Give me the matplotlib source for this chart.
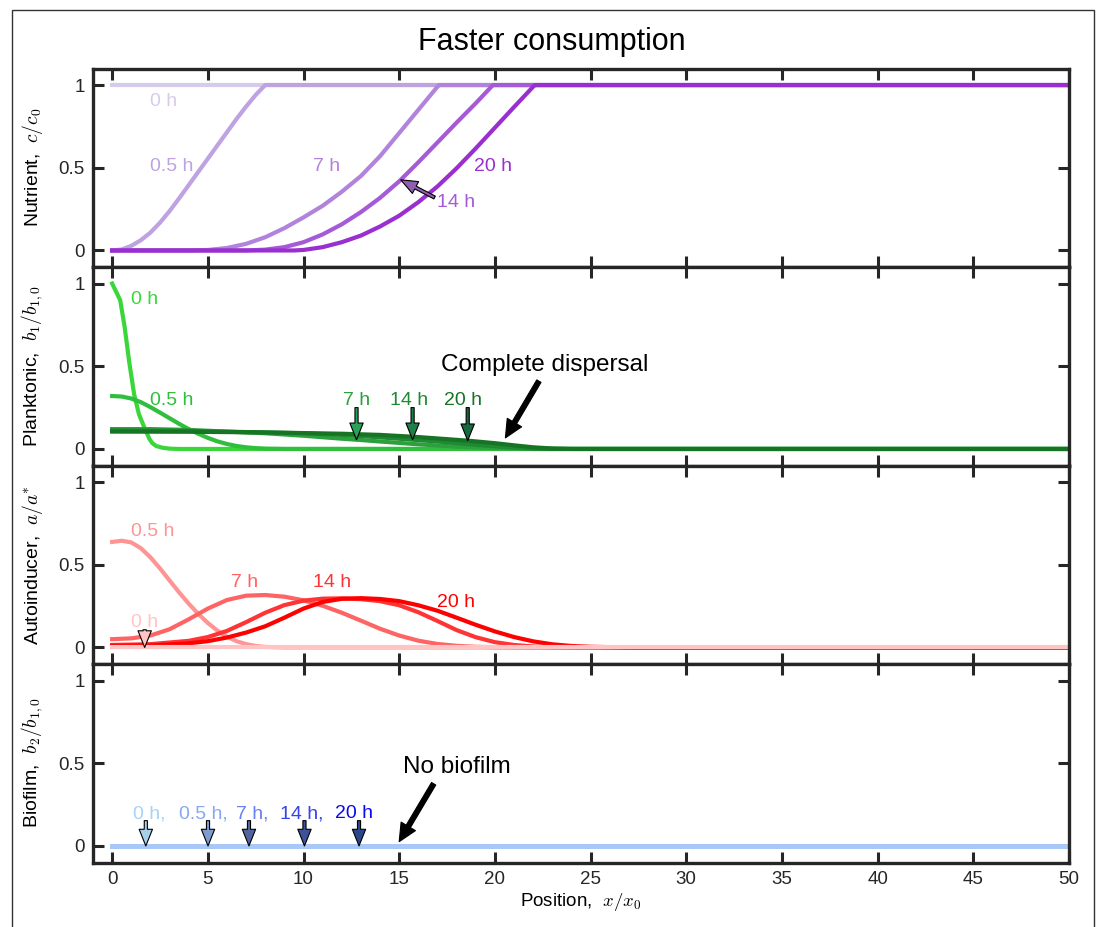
import matplotlib.pyplot as plt
import numpy as np
from matplotlib.patches import Rectangle

plt.rcParams['font.family'] = ['Liberation Sans', 'DejaVu Sans']
plt.rcParams['mathtext.fontset'] = 'cm'
plt.rcParams['lines.solid_joinstyle'] = 'round'

times = ['0 h', '0.5 h', '7 h', '14 h', '20 h']

# Nutrient, c/c0
nut_x = [
    [0, 50],
    [0, 0.5, 1, 1.5, 2, 2.5, 3, 3.5, 4, 4.5, 5, 5.5, 6, 6.5, 7, 7.5, 8, 50],
    [0, 4, 5, 6, 7, 8, 9, 10, 11, 12, 13, 14, 15, 16, 17, 17.1, 50],
    [0, 7, 8, 9, 10, 11, 12, 13, 14, 15, 16, 17, 18, 19, 19.9, 50],
    [0, 9.5, 10, 11, 12, 13, 14, 15, 16, 17, 18, 19, 20, 21, 22, 22.1, 50],
]
nut_y = [
    [1, 1],
    [0, 0.006, 0.028, 0.062, 0.108, 0.168, 0.238, 0.315, 0.395, 0.475, 0.555, 0.635, 0.715, 0.795, 0.87, 0.94, 1.0, 1.0],
    [0, 0, 0.003, 0.015, 0.04, 0.08, 0.135, 0.2, 0.27, 0.355, 0.45, 0.57, 0.71, 0.85, 0.99, 1, 1],
    [0, 0, 0.005, 0.02, 0.05, 0.097, 0.158, 0.232, 0.318, 0.418, 0.533, 0.653, 0.773, 0.89, 1, 1],
    [0, 0, 0.003, 0.02, 0.05, 0.09, 0.145, 0.21, 0.292, 0.387, 0.497, 0.617, 0.742, 0.867, 0.99, 1, 1],
]

# Planktonic, b1/b1,0
plank_x = [
    [0, 0.42, 0.65, 0.9, 1.15, 1.4, 1.7, 1.95, 2.1, 2.3, 2.6, 3, 3.5, 50],
    [0, 0.5, 1, 1.5, 2, 2.5, 3, 3.5, 4, 4.5, 5, 5.5, 6, 6.5, 7, 7.5, 8, 9, 50],
    [0, 2, 4, 6, 8, 10, 12, 13, 14, 16, 18, 20, 22, 50],
    [0, 4, 8, 10, 12, 14, 15.7, 17, 19, 21, 22.5, 50],
    [0, 4, 8, 12, 14, 16, 18.6, 20, 21, 22, 23, 24, 50],
]
plank_y = [
    [1, 0.9, 0.74, 0.52, 0.33, 0.21, 0.125, 0.06, 0.035, 0.018, 0.008, 0.002, 0, 0],
    [0.32, 0.317, 0.305, 0.283, 0.253, 0.22, 0.186, 0.152, 0.12, 0.092, 0.067, 0.046, 0.03, 0.018, 0.01, 0.005, 0.002, 0, 0],
    [0.12, 0.12, 0.115, 0.105, 0.095, 0.08, 0.062, 0.054, 0.045, 0.028, 0.014, 0.005, 0, 0],
    [0.112, 0.109, 0.1, 0.095, 0.085, 0.07, 0.056, 0.045, 0.025, 0.008, 0, 0],
    [0.105, 0.104, 0.1, 0.092, 0.085, 0.072, 0.05, 0.035, 0.022, 0.01, 0.003, 0, 0],
]

# Autoinducer, a/a*
auto_x = [
    [0, 50],
    [0, 0.5, 1, 1.5, 2, 2.5, 3, 3.5, 4, 4.5, 5, 5.5, 6, 6.5, 7, 7.5, 8, 9, 50],
    [0, 1, 2, 3, 4, 5, 6, 7, 8, 9, 10, 11, 12, 13, 14, 15, 16, 17, 18, 19, 20, 22, 50],
    [0, 2, 4, 5, 6, 7, 8, 9, 10, 11, 12, 13, 14, 15, 16, 17, 18, 19, 20, 21, 22, 23, 25, 50],
    [0, 2, 4, 5, 6, 7, 8, 9, 10, 11, 12, 13, 14, 15, 16, 17, 18, 19, 20, 21, 22, 23, 24, 25, 27, 50],
]
auto_y = [
    [0, 0],
    [0.638, 0.645, 0.635, 0.6, 0.545, 0.478, 0.405, 0.333, 0.265, 0.203, 0.148, 0.102, 0.065, 0.038, 0.02, 0.009, 0.003, 0, 0],
    [0.05, 0.055, 0.072, 0.11, 0.17, 0.235, 0.287, 0.313, 0.317, 0.307, 0.285, 0.252, 0.21, 0.162, 0.113, 0.072, 0.041,
     0.021, 0.01, 0.004, 0.0015, 0, 0],
    [0.015, 0.02, 0.04, 0.063, 0.1, 0.153, 0.21, 0.256, 0.283, 0.295, 0.297, 0.292, 0.28, 0.255, 0.213, 0.16, 0.105,
     0.062, 0.032, 0.015, 0.006, 0.002, 0, 0],
    [0.01, 0.012, 0.025, 0.038, 0.06, 0.09, 0.128, 0.18, 0.235, 0.275, 0.294, 0.298, 0.293, 0.28, 0.255, 0.222, 0.18,
     0.137, 0.097, 0.063, 0.037, 0.019, 0.009, 0.004, 0, 0],
]

# Biofilm, b2/b1,0 (stays at zero)
bio_x = [[0, 50]] * 5
bio_y = [[0, 0]] * 5

nut_colors = ['#d6cbec', '#bea2e2', '#b283dc', '#a55ad7', '#9a2fcf']
plank_colors = ['#3ad63a', '#2fbf3c', '#2ca03c', '#1f8a33', '#167424']
plank_arrow_colors = ['#2aa05a', '#1e8048', '#176a3e']
auto_colors = ['#ffc4c4', '#ff9494', '#ff6464', '#ff3434', '#ff0000']
bio_label_colors = ['#a8d2f8', '#88a8f0', '#6a80f0', '#3545e6', '#0a0af0']
bio_arrow_colors = ['#a6d0ea', '#7e9ccf', '#50659f', '#3e529a', '#2c468c']
bio_line_color = '#a8c8f8'

W, H = 1099, 927
fig = plt.figure(figsize=(W / 100, H / 100), dpi=100)
fig.add_artist(Rectangle((12 / W, -0.1), (1094 - 12) / W, 1.1 - 10 / H, transform=fig.transFigure,
                         fill=False, ec='#333333', lw=1))

left, right = 93 / W, 1069 / W
bottom, top = 1 - 862.5 / H, 1 - 68.5 / H
ph = (top - bottom) / 4
axes = []
for i in range(4):
    ax = fig.add_axes([left, top - (i + 1) * ph, right - left, ph])
    ax.set_xlim(-1, 50)
    ax.set_ylim(-0.1, 1.1)
    ax.set_xticks(np.arange(0, 51, 5))
    ax.set_yticks([0, 0.5, 1])
    ax.set_yticklabels(['0', '0.5', '1'])
    ax.tick_params(direction='in', length=8, width=2.2, top=True, right=True, labelsize=13.5,
                   color='#262626', labelcolor='#262626', pad=6)
    for s in ax.spines.values():
        s.set_linewidth(2.4)
        s.set_color('#262626')
    if i < 3:
        ax.tick_params(labelbottom=False)
    axes.append(ax)

lbl = dict(fontsize=14, ha='center', va='center')
arrow_small = 'simple,head_length=0.75,head_width=0.6,tail_width=0.14'
arrow_big = 'simple,head_length=0.8,head_width=0.75,tail_width=0.22'


def arrow(ax, tail, tip, fc, style=arrow_small, scale=16):
    ax.annotate('', xy=tip, xytext=tail,
                arrowprops=dict(arrowstyle=style, fc=fc, ec='black', lw=0.8,
                                shrinkA=0, shrinkB=0, mutation_scale=scale))


# Panel 1: nutrient
ax = axes[0]
for k in range(5):
    ax.plot(nut_x[k], nut_y[k], color=nut_colors[k], lw=3)
nut_lbl_pos = [(2.7, 0.9), (3.1, 0.51), (11.2, 0.51), (17.95, 0.29), (19.9, 0.51)]
for k in range(5):
    ax.text(*nut_lbl_pos[k], times[k], color=nut_colors[k], **lbl)
tip_x = 15.08
arrow(ax, (16.85, 0.32), (tip_x, np.interp(tip_x, nut_x[3], nut_y[3])), '#9060b0')
ax.set_ylabel(r'Nutrient,  $c/c_0$', fontsize=14, labelpad=10)

# Panel 2: planktonic
ax = axes[1]
for k in range(5):
    ax.plot(plank_x[k], plank_y[k], color=plank_colors[k], lw=3)
ax.text(1.7, 0.905, times[0], color=plank_colors[0], **lbl)
ax.text(3.1, 0.29, times[1], color=plank_colors[1], **lbl)
plank_arrow_x = [12.77, 15.7, 18.58]
plank_lbl_x = [12.77, 15.5, 18.35]
for j, k in enumerate([2, 3, 4]):
    ax.text(plank_lbl_x[j], 0.29, times[k], color=plank_colors[k], **lbl)
    xa = plank_arrow_x[j]
    arrow(ax, (xa, 0.25), (xa, np.interp(xa, plank_x[k], plank_y[k])), plank_arrow_colors[j])
ax.text(22.6, 0.51, 'Complete dispersal', fontsize=17.5, ha='center', va='center', color='black')
arrow(ax, (22.3, 0.41), (20.55, 0.067), 'black', arrow_big)
ax.set_ylabel(r'Planktonic,  $b_1/b_{1,0}$', fontsize=14, labelpad=10)

# Panel 3: autoinducer
ax = axes[2]
for k in [1, 2, 3, 4, 0]:
    ax.plot(auto_x[k], auto_y[k], color=auto_colors[k], lw=3)
auto_lbl_pos = [(1.7, 0.15), (2.12, 0.70), (6.9, 0.39), (11.5, 0.39), (17.95, 0.27)]
for k in range(5):
    ax.text(*auto_lbl_pos[k], times[k], color=auto_colors[k], **lbl)
arrow(ax, (1.7, 0.107), (1.7, np.interp(1.7, auto_x[0], auto_y[0])), auto_colors[0])
ax.set_ylabel(r'Autoinducer,  $a/a^{*}$', fontsize=14, labelpad=10)

# Panel 4: biofilm
ax = axes[3]
for k in range(5):
    ax.plot(bio_x[k], bio_y[k], color=bio_line_color, lw=3.5)
bio_lbl = ['0 h,', '0.5 h,', '7 h,', '14 h,', '20 h']
bio_lbl_x = [1.94, 4.78, 7.3, 9.92, 12.66]
bio_arrow_x = [1.76, 5.01, 7.15, 10.05, 12.9]
for k in range(5):
    ax.text(bio_lbl_x[k], 0.195, bio_lbl[k], color=bio_label_colors[k], **lbl)
    xa = bio_arrow_x[k]
    arrow(ax, (xa, 0.153), (xa, np.interp(xa, bio_x[k], bio_y[k])), bio_arrow_colors[k])
ax.text(18.0, 0.48, 'No biofilm', fontsize=17.5, ha='center', va='center', color='black')
arrow(ax, (16.8, 0.376), (15.0, 0.026), 'black', arrow_big)
ax.set_ylabel(r'Biofilm,  $b_2/b_{1,0}$', fontsize=14, labelpad=10)
ax.set_xlabel(r'Position,  $x/x_0$', fontsize=13.5, labelpad=2)

fig.text(552 / W, 1 - 42 / H, 'Faster consumption', fontsize=22, ha='center', va='center', color='black')

fig.savefig('out.png', dpi=100)
